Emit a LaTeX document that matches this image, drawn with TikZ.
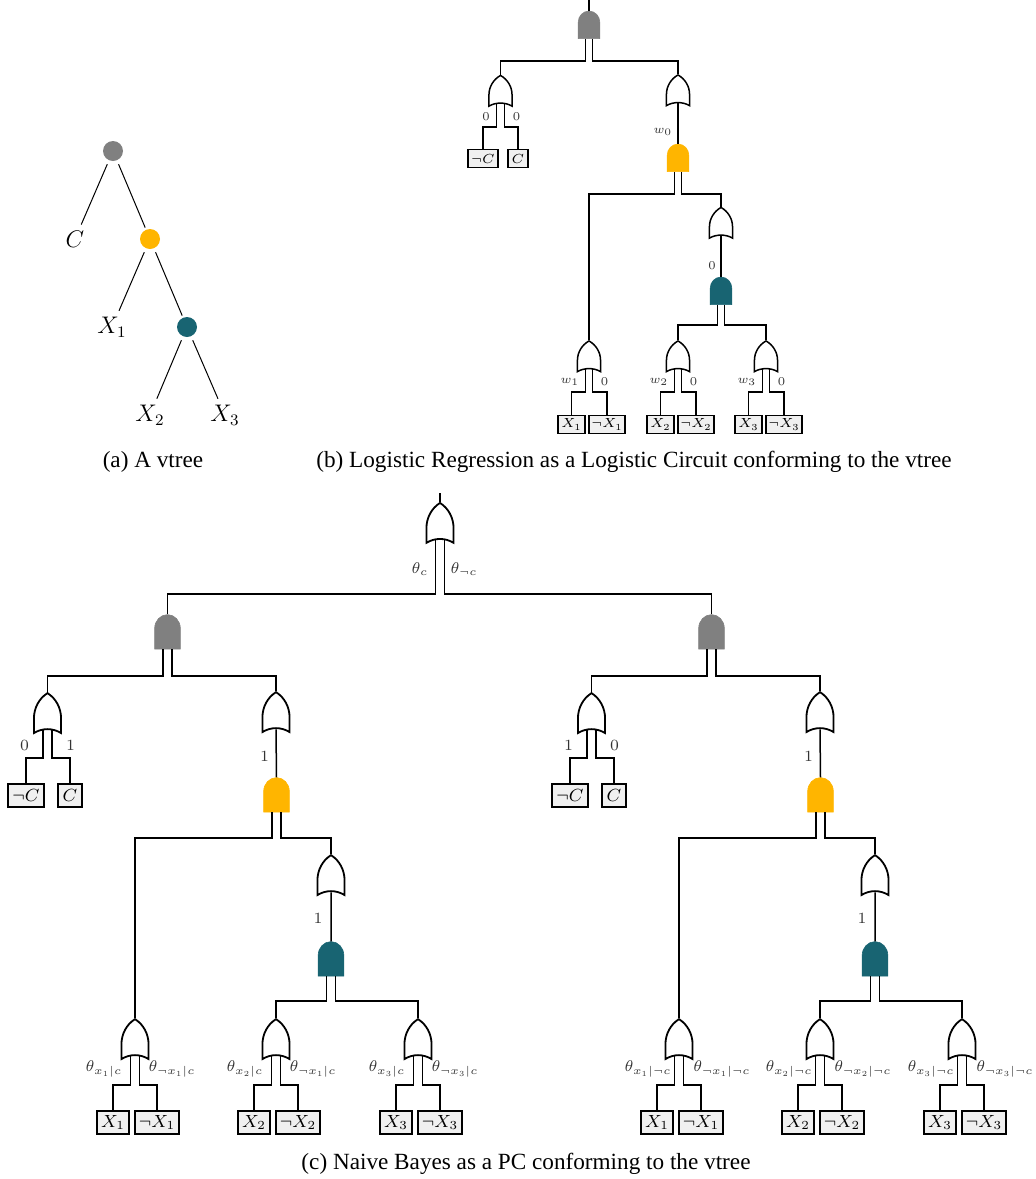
\documentclass[tikz,border=0pt]{standalone}
\usepackage{fix-cm}
\usepackage{amsmath}
\usepackage[no-math]{fontspec}
\setmainfont{Liberation Serif}
\usetikzlibrary{calc, shapes.gates.logic.US}
\definecolor{vgrey}{HTML}{808080}
\definecolor{vyellow}{HTML}{FFB500}
\definecolor{vteal}{HTML}{186472}
\definecolor{boxfill}{HTML}{F0F0F0}
\tikzset{
    wire/.style={line width=0.75pt},
    wiresmall/.style={line width=0.6pt},
    orbig/.style={or gate US, draw, fill=white, logic gate inputs=nn, rotate=90, xscale=0.84, yscale=0.78, inner sep=0pt, minimum width=14pt, minimum height=14pt, line width=0.9pt},
    orsmall/.style={or gate US, draw, fill=white, logic gate inputs=nn, rotate=90, xscale=0.68, yscale=0.7, inner sep=0pt, minimum width=11.5pt, minimum height=11.5pt, line width=0.75pt},
    andbig/.style={and gate US, draw=#1, fill=#1, logic gate inputs=nn, rotate=90, yscale=0.93, inner sep=0pt, minimum width=13.5pt, minimum height=13.5pt, line width=0.3pt},
    andsmall/.style={and gate US, draw=#1, fill=#1, logic gate inputs=nn, rotate=90, xscale=0.8, yscale=0.78, inner sep=0pt, minimum width=11pt, minimum height=11pt, line width=0.3pt},
    litbig/.style={draw, fill=boxfill, line width=0.7pt, inner sep=0pt, minimum height=11.5pt, font=\fontsize{8.8}{10}\selectfont},
    litsmall/.style={draw, fill=boxfill, line width=0.6pt, inner sep=0pt, minimum height=9pt, font=\fontsize{6.6}{8}\selectfont},
    lblbig/.style={inner sep=0pt, text=black!80, font=\fontsize{7.8}{9}\selectfont},
    lblsmall/.style={inner sep=0pt, text=black!80, font=\fontsize{6}{7}\selectfont},
    vnode/.style={circle, fill=#1, inner sep=0pt, minimum size=10pt},
    vleaf/.style={inner sep=2pt, font=\fontsize{12}{14}\selectfont},
    caption/.style={inner sep=0pt, font=\fontsize{11.6}{13}\selectfont}
}
\begin{document}
\begin{tikzpicture}[x=0.5pt, y=-0.5pt]
    \useasboundingbox (0,0) rectangle (1035,1179);

    % Vtree
    \node[vnode=vgrey] (v1) at (113,151) {};
    \node[vnode=vyellow] (v2) at (150,239) {};
    \node[vnode=vteal] (v3) at (187,327) {};
    \node[vleaf] (vC) at (75,239) {$C$};
    \node[vleaf] (vX1) at (112,327) {$X_1$};
    \node[vleaf] (vX2) at (150,415) {$X_2$};
    \node[vleaf] (vX3) at (225,415) {$X_3$};
    \foreach \a/\b in {v1/vC, v1/v2, v2/vX1, v2/v3, v3/vX2, v3/vX3}
        \draw[line width=0.5pt, shorten <=2pt, shorten >=1pt] (\a) -- (\b);
    \node[caption] (capa) at (153,462) {(a) A vtree};

    % Logistic circuit
    \coordinate (bstub) at (589,0);
    \coordinate (bb1) at (0,61);
    \coordinate (bb2) at (0,127);
    \coordinate (bb3) at (0,194);
    \coordinate (bb4) at (0,325);
    \coordinate (bb5) at (0,392);
    \node[andsmall=vgrey] (broot) at (589,25.8) {};
    \draw[wiresmall] (bstub) -- (broot.output);
    \node[orsmall] (borc) at (500.5,93) {};
    \node[orsmall] (borx) at (678,92.5) {};
    \node[andsmall=vyellow] (byel) at (678,158.8) {};
    \node[orsmall] (bormid) at (721,225) {};
    \node[andsmall=vteal] (bteal) at (721,291.8) {};
    \draw[wiresmall] (broot.input 1) -- (broot.input 1 |- bb1) -| (borc.output);
    \draw[wiresmall] (broot.input 2) -- (broot.input 2 |- bb1) -| (borx.output);
    \draw[wiresmall] (byel.output) -- ($(borx.input 1)!0.5!(borx.input 2)$);
    \draw[wiresmall] (bteal.output) -- ($(bormid.input 1)!0.5!(bormid.input 2)$);
    \draw[wiresmall] (byel.input 2) -- (byel.input 2 |- bb3) -| (bormid.output);

    \node[litsmall, minimum width=15pt] (bnc) at (483,158.5) {$\neg C$};
    \node[litsmall, minimum width=10pt] (bc) at (518,158.5) {$C$};
    \draw[wiresmall] (borc.input 1) -- (borc.input 1 |- bb2) -| (bnc.north);
    \draw[wiresmall] (borc.input 2) -- (borc.input 2 |- bb2) -| (bc.north);
    \node[lblsmall] (bl1) at (486,117) {$0$};
    \node[lblsmall] (bl2) at (516.5,117) {$0$};
    \node[lblsmall] (bl3) at (663,132) {$w_0$};
    \node[lblsmall] (bl4) at (712,266) {$0$};

    % Three features of the logistic circuit
    \foreach \i/\x in {1/589, 2/678, 3/766}
    {
        \node[orsmall] (bor\i) at (\x,358.5) {};
        \node[litsmall, minimum width=13.5pt] (bp\i) at (\x-17.5,424.5) {$X_\i$};
        \node[litsmall, minimum width=18pt] (bn\i) at (\x+18,424.5) {$\neg X_\i$};
        \draw[wiresmall] (bor\i.input 1) -- (bor\i.input 1 |- bb5) -| (bp\i.north);
        \draw[wiresmall] (bor\i.input 2) -- (bor\i.input 2 |- bb5) -| (bn\i.north);
        \node[lblsmall] (blw\i) at (\x-19,382) {$w_\i$};
        \node[lblsmall] (blz\i) at (\x+15.5,382) {$0$};
    }
    \draw[wiresmall] (byel.input 1) -- (byel.input 1 |- bb3) -| (bor1.output);
    \draw[wiresmall] (bteal.input 1) -- (bteal.input 1 |- bb4) -| (bor2.output);
    \draw[wiresmall] (bteal.input 2) -- (bteal.input 2 |- bb4) -| (bor3.output);
    \node[caption] (capb) at (634,462) {(b) Logistic Regression as a Logistic Circuit conforming to the vtree};

    % Naive Bayes circuit
    \coordinate (cstub) at (440,493);
    \coordinate (cb0) at (0,594);
    \coordinate (cb1) at (0,676);
    \coordinate (cb2) at (0,758);
    \coordinate (cb3) at (0,838);
    \coordinate (cb4) at (0,1001);
    \coordinate (cb5) at (0,1085);
    \node[orbig] (croot) at (440,525.8) {};
    \draw[wire] (cstub) -- (croot.output);
    \node[lblbig] (ctl) at (420,569) {$\theta_c$};
    \node[lblbig] (ctr) at (464,569) {$\theta_{\neg c}$};

    \foreach \s/\n/\p/\q/\cnd/\m/\o in {0/l/0/1/c/1/68, 544/r/1/0/\neg c/2/74}
    {
        \begin{scope}[shift={(\s,0)}]
            \node[andbig=vgrey] (\n and) at (167.5,633) {};
            \node[orbig] (\n orc) at (47.5,716) {};
            \node[orbig] (\n orx) at (276,715) {};
            \node[andbig=vyellow] (\n yel) at (276.5,796) {};
            \node[orbig] (\n ormid) at (331,878) {};
            \node[andbig=vteal] (\n teal) at (331,960) {};
            \node[litbig, minimum width=18pt] (\n nc) at (26,795.5) {$\neg C$};
            \node[litbig, minimum width=12pt] (\n c) at (70,795.5) {$C$};
            \node[lblbig] (\n l0) at (24.5,745) {$\p$};
            \node[lblbig] (\n l1) at (70.5,745) {$\q$};
            \node[lblbig] (\n l2) at (264.5,756) {$1$};
            \node[lblbig] (\n l3) at (318,918) {$1$};

            \draw[wire] (\n and.input 1) -- (\n and.input 1 |- cb1) -| (\n orc.output);
            \draw[wire] (\n and.input 2) -- (\n and.input 2 |- cb1) -| (\n orx.output);
            \draw[wire] (\n orc.input 1) -- (\n orc.input 1 |- cb2) -| (\n nc.north);
            \draw[wire] (\n orc.input 2) -- (\n orc.input 2 |- cb2) -| (\n c.north);
            \draw[wire] (\n yel.output) -- ($(\n orx.input 1)!0.5!(\n orx.input 2)$);
            \draw[wire] (\n teal.output) -- ($(\n ormid.input 1)!0.5!(\n ormid.input 2)$);
            \draw[wire] (\n yel.input 2) -- (\n yel.input 2 |- cb3) -| (\n ormid.output);

            % One feature of the circuit per group
            \foreach \i/\x/\y/\f in {1/135/104/1, 2/276/245/\m, 3/418/387/3}
            {
                \node[orbig] (\n or\i) at (\x,1042) {};
                \node[litbig, minimum width=16pt] (\n p\i) at (\x-22,1122.5) {$X_\i$};
                \node[litbig, minimum width=22pt] (\n q\i) at (\x+22,1122.5) {$\neg X_\i$};
                \node[lblbig] (\n tp\i) at (\y,1069) {$\theta_{x_\i|\cnd}$};
                \node[lblbig] (\n tq\i) at (\y+\o,1069) {$\theta_{\neg x_\f|\cnd}$};
                \draw[wire] (\n or\i.input 1) -- (\n or\i.input 1 |- cb5) -| (\n p\i.north);
                \draw[wire] (\n or\i.input 2) -- (\n or\i.input 2 |- cb5) -| (\n q\i.north);
            }
            \draw[wire] (\n yel.input 1) -- (\n yel.input 1 |- cb3) -| (\n or1.output);
            \draw[wire] (\n teal.input 1) -- (\n teal.input 1 |- cb4) -| (\n or2.output);
            \draw[wire] (\n teal.input 2) -- (\n teal.input 2 |- cb4) -| (\n or3.output);
        \end{scope}
    }
    \draw[wire] (croot.input 1) -- (croot.input 1 |- cb0) -| (land.output);
    \draw[wire] (croot.input 2) -- (croot.input 2 |- cb0) -| (rand.output);
    \node[caption] (capc) at (526,1163.5) {(c) Naive Bayes as a PC conforming to the vtree};
\end{tikzpicture}
\end{document}
